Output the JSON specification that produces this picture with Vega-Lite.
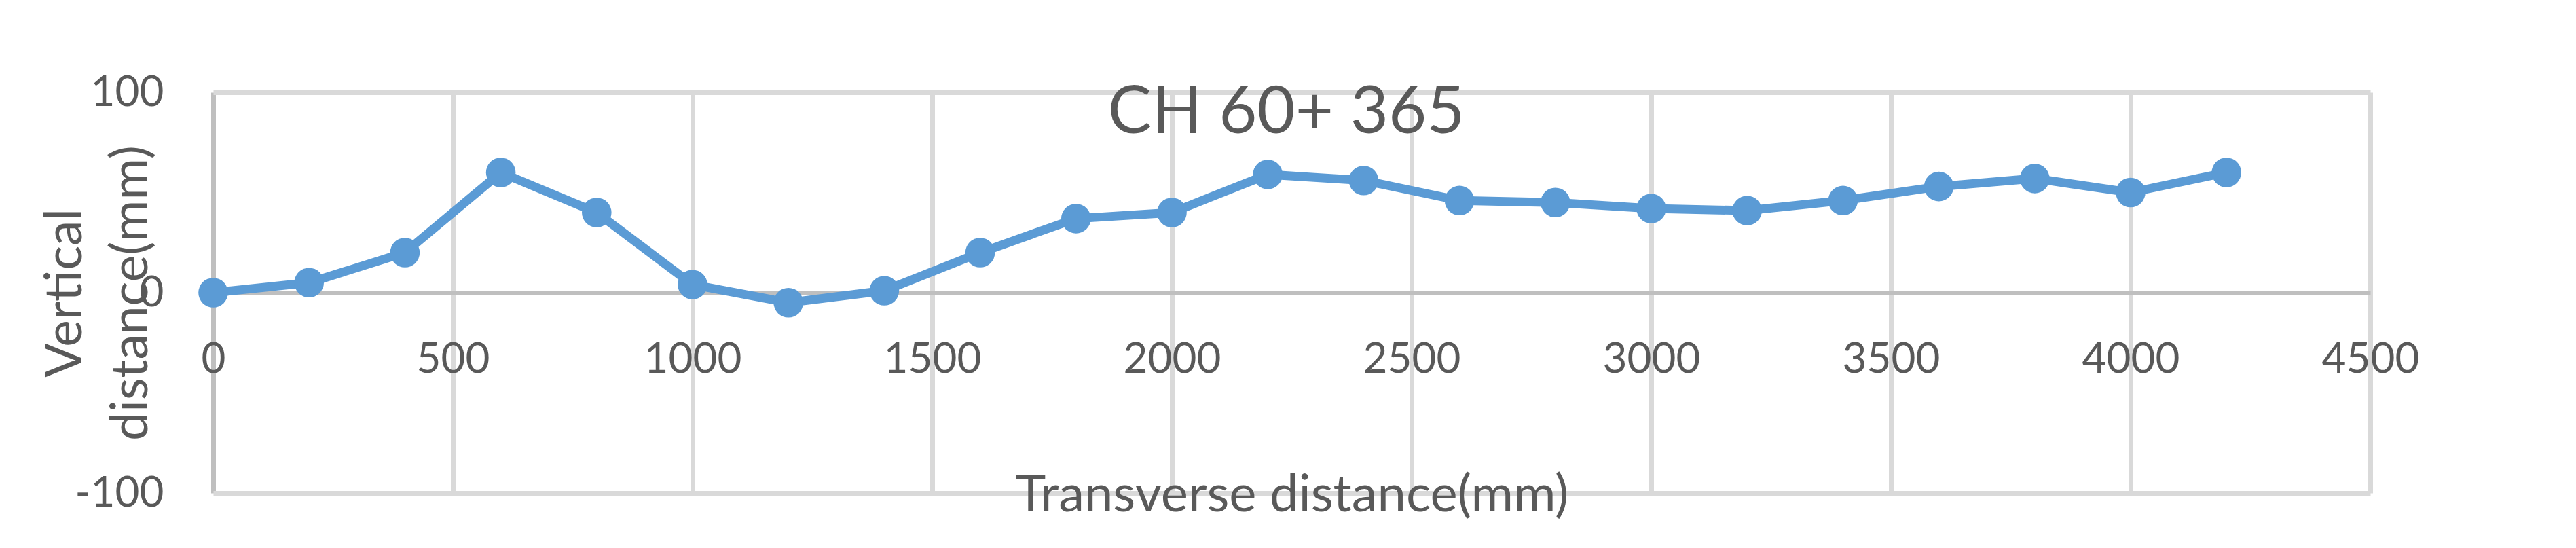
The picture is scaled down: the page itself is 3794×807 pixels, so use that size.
{
  "$schema": "https://vega.github.io/schema/vega-lite/v6.json",
  "autosize": "none",
  "width": 3177,
  "height": 590,
  "padding": {"left": 314, "top": 136, "right": 303, "bottom": 81},
  "background": "white",
  "config": {
    "view": {"stroke": null},
    "font": "Lato"
  },
  "title": {
    "text": "CH 60+ 365",
    "font": "Lato",
    "fontSize": 97,
    "fontWeight": "normal",
    "color": "#595959",
    "anchor": "middle",
    "frame": "group",
    "baseline": "alphabetic",
    "offset": -188,
    "dx": -8
  },
  "data": {
    "values": [
      {"x": 0, "y": 0},
      {"x": 200, "y": 5},
      {"x": 400, "y": 20},
      {"x": 600, "y": 60},
      {"x": 800, "y": 40},
      {"x": 1000, "y": 4},
      {"x": 1200, "y": -5},
      {"x": 1400, "y": 1},
      {"x": 1600, "y": 20},
      {"x": 1800, "y": 37},
      {"x": 2000, "y": 40},
      {"x": 2200, "y": 59},
      {"x": 2400, "y": 56},
      {"x": 2600, "y": 46},
      {"x": 2800, "y": 45},
      {"x": 3000, "y": 42},
      {"x": 3200, "y": 41},
      {"x": 3400, "y": 46},
      {"x": 3600, "y": 53},
      {"x": 3800, "y": 57},
      {"x": 4000, "y": 50},
      {"x": 4200, "y": 60}
    ]
  },
  "mark": {
    "type": "line",
    "color": "#5B9BD5",
    "strokeWidth": 13,
    "point": {"filled": true, "size": 1900, "color": "#5B9BD5", "opacity": 1}
  },
  "encoding": {
    "x": {
      "field": "x",
      "type": "quantitative",
      "scale": {"domain": [0, 4500], "nice": false, "zero": false},
      "axis": {
        "title": "Transverse distance(mm)",
        "values": [0, 500, 1000, 1500, 2000, 2500, 3000, 3500, 4000, 4500],
        "labelExpr": "'' + datum.value",
        "offset": -295,
        "domain": false,
        "ticks": false,
        "labelFont": "Lato",
        "labelFontSize": 62,
        "labelColor": "#595959",
        "labelPadding": 68,
        "labelFlush": false,
        "labelOverlap": false,
        "grid": true,
        "gridColor": {"condition": {"test": "datum.value === 0", "value": "#bfbfbf"}, "value": "#d9d9d9"},
        "gridWidth": 7,
        "gridOpacity": 1,
        "titleFont": "Lato",
        "titleFontSize": 76,
        "titleFontWeight": "normal",
        "titleColor": "#595959",
        "titleBaseline": "alphabetic",
        "titleY": 321,
        "titlePadding": 0
      }
    },
    "y": {
      "field": "y",
      "type": "quantitative",
      "scale": {"domain": [-100, 100], "nice": false},
      "axis": {
        "title": ["Vertical", "distance(mm)"],
        "values": [-100, 0, 100],
        "labelExpr": "'' + datum.value",
        "domain": false,
        "ticks": false,
        "labelFont": "Lato",
        "labelFontSize": 62,
        "labelColor": "#595959",
        "labelPadding": 73,
        "labelFlush": false,
        "labelOverlap": false,
        "grid": true,
        "gridColor": {"condition": {"test": "datum.value === 0", "value": "#bfbfbf"}, "value": "#d9d9d9"},
        "gridWidth": 7,
        "gridOpacity": 1,
        "titleFont": "Lato",
        "titleFontSize": 75,
        "titleFontWeight": "normal",
        "titleColor": "#595959",
        "titleAngle": -90,
        "titleAlign": "center",
        "titleBaseline": "alphabetic",
        "titleLineHeight": 97,
        "titleX": -195,
        "titleY": 295
      }
    }
  }
}
